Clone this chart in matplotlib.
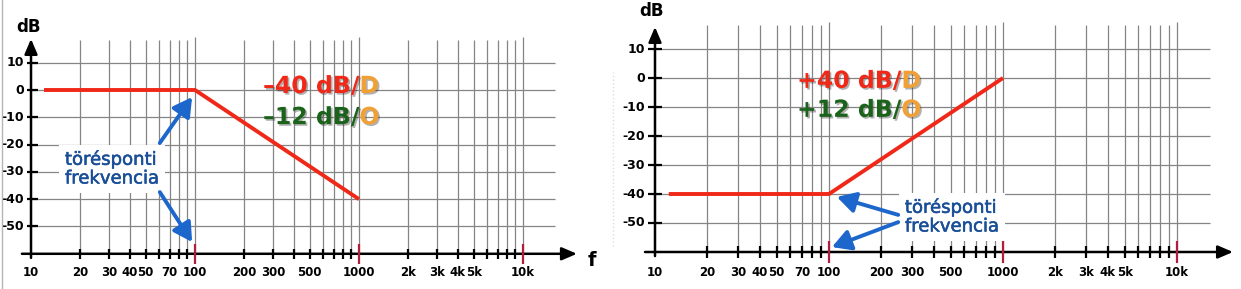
import matplotlib.pyplot as plt
from matplotlib import patheffects as pe
from matplotlib.lines import Line2D

# asymptotic Bode curves (Hz, dB)
lp_freq = [12, 100, 1000]
lp_gain = [0, 0, -40]
hp_freq = [12, 100, 1000]
hp_gain = [-40, -40, 0]

y_levels = [10, 0, -10, -20, -30, -40, -50]
y_labels = ["10", "0", "-10", "-20", "-30", "-40", "-50"]
minor_freqs = [20, 30, 40, 50, 60, 70, 80, 90,
               200, 300, 400, 500, 600, 700, 800, 900,
               2000, 3000, 4000, 5000, 6000, 7000, 8000, 9000]
decade_freqs = [100, 1000, 10000]
x_label_freqs = [10, 20, 30, 40, 50, 70, 100, 200, 300, 500, 1000,
                 2000, 3000, 4000, 5000, 10000]
x_labels = ["10", "20", "30", "40", "50", "70", "100", "200", "300", "500",
            "1000", "2k", "3k", "4k", "5k", "10k"]

RED = "#f02818"
GREEN = "#1b621b"
ORANGE = "#f0a035"
BLUE_TXT = "#1a4f98"
BLUE_ARR = "#1c66cc"
GRID = "#858585"
TICK_RED = "#b01e3c"

shadow = [pe.withSimplePatchShadow(offset=(1.2, -1.2), shadow_rgbFace="#222222", alpha=0.35)]
thick_blue = [pe.withStroke(linewidth=0.4, foreground=BLUE_TXT)]


def draw_panel(ax, freq, gain, c):
    ax.set_xscale("log")
    ax.set_xlim(*c["xlim"])
    ax.set_ylim(*c["ylim"])
    ax.axis("off")

    # grid
    ax.vlines(minor_freqs, -60, c["gtop"][0], color=GRID, lw=0.9, zorder=1)
    ax.vlines(decade_freqs, -60, c["gtop"][1], color=GRID, lw=0.9, zorder=1)
    ax.hlines(y_levels, 10, c["hend"], color=GRID, lw=0.9, zorder=1)

    # axes with arrows
    arr = dict(arrowstyle="-|>,head_length=0.7,head_width=0.3", color="black",
               lw=1.8, mutation_scale=13, shrinkA=0, shrinkB=0)
    ax.annotate("", xy=(c["xaxis"][1], -60), xytext=(c["xaxis"][0], -60),
                arrowprops=arr, zorder=3)
    ax.annotate("", xy=(10, c["yaxis"][1]), xytext=(10, c["yaxis"][0]),
                arrowprops=arr, zorder=3)

    # ticks
    ax.vlines(minor_freqs, -60 - c["tk"][0], -60 + c["tk"][0], color="black", lw=1.6, zorder=3)
    ax.vlines(decade_freqs, -60 - c["tk"][1], -60 + c["tk"][1], color=TICK_RED, lw=1.6, zorder=3)
    ax.hlines(y_levels, c["ytk"][0], c["ytk"][1], color="black", lw=1.6, zorder=3)

    for v, lab in zip(y_levels, y_labels):
        ax.text(c["ylab_x"], v, lab, ha="right", va="center", fontsize=9,
                fontweight="bold", family="DejaVu Sans")
    for f, lab in zip(x_label_freqs, x_labels):
        ax.text(f, c["xlab_y"], lab, ha="center", va="center", fontsize=8.5,
                fontweight="bold", family="DejaVu Sans")
    ax.text(c["db"][0], c["db"][1], "dB", ha="center", va="center",
            fontsize=12, fontweight="bold")

    # curve
    ax.plot(freq, gain, color=RED, lw=2.8, solid_capstyle="butt", zorder=4)

    # slope labels
    for (x, y, main, tail, col) in c["slopes"]:
        t1 = ax.text(x, y, main, color=col, fontsize=17, fontweight="bold",
                     va="baseline", ha="left", path_effects=shadow, zorder=6)
        ax.annotate(tail, xy=(1, 0), xycoords=t1, va="bottom", ha="left",
                    color=ORANGE, fontsize=17, fontweight="bold",
                    path_effects=shadow, zorder=6)

    # corner frequency note
    nx, ny = c["note"]
    ax.text(nx, ny, "törésponti\nfrekvencia", color=BLUE_TXT, fontsize=13,
            ha="left", va="center", linespacing=1.05, zorder=5,
            path_effects=thick_blue,
            bbox=dict(facecolor="white", edgecolor="none", pad=4))
    for tip, tail in c["arrows"]:
        ax.annotate("", xy=tip, xytext=tail, zorder=7,
                    arrowprops=dict(arrowstyle="-|>,head_length=0.8,head_width=0.45",
                                    color=BLUE_ARR, lw=2.8, mutation_scale=14,
                                    shrinkA=0, shrinkB=0))


fig = plt.figure(figsize=(12.41, 2.89), dpi=100)
axL = fig.add_axes([0, 0, 615 / 1241, 1])
axR = fig.add_axes([615 / 1241, 0, 626 / 1241, 1])

left_cfg = dict(
    xlim=(6.47, 36400), ylim=(-72.9, 32.97), gtop=(18.3, 19.4), hend=15700,
    xaxis=(8.8, 21330), yaxis=(-61.5, 18.7), tk=(1.8, 3.7),
    ytk=(10 ** 0.975, 10 ** 1.045), ylab_x=9.06, xlab_y=-67.0, db=(9.65, 23.1),
    slopes=[(260, -1.1, "–40 dB/", "D", RED), (260, -12.5, "–12 dB/", "O", GREEN)],
    note=(16.1, -28.9),
    arrows=[((96, -2.6), (61, -19.4)), ((96, -55.7), (61, -37.4))],
)
right_cfg = dict(
    xlim=(5.89, 23330), ylim=(-72.76, 26.9), gtop=(18.3, 19.3), hend=15500,
    xaxis=(8.76, 20990), yaxis=(-61.4, 17.6), tk=(2.0, 3.8),
    ytk=(10 ** 0.96, 10 ** 1.04), ylab_x=8.77, xlab_y=-66.9, db=(9.55, 23.1),
    slopes=[(65.5, -3.4, "+40 dB/", "D", RED), (65.5, -13.4, "+12 dB/", "O", GREEN)],
    note=(273, -47.9),
    arrows=[((111, -41.0), (250, -47.2)), ((104, -58.3), (250, -49.7))],
)

draw_panel(axL, lp_freq, lp_gain, left_cfg)
draw_panel(axR, hp_freq, hp_gain, right_cfg)
axL.text(26360, -62.6, "f", ha="center", va="center", fontsize=14, fontweight="bold")

# faint slide borders
fig.add_artist(Line2D([2.5 / 1241, 2.5 / 1241], [0, 1], color="#b5b5b5", lw=1))
fig.add_artist(Line2D([613 / 1241, 613 / 1241], [0.15, 0.75], color="#dddddd", lw=1, ls=":"))

fig.savefig("out.png", dpi=100)
